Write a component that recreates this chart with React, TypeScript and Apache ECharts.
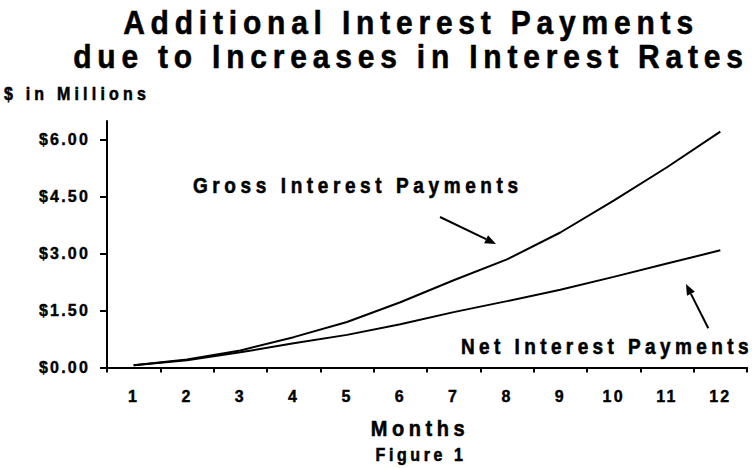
import React, { useEffect, useRef } from 'react';
import * as echarts from 'echarts';

const months = ['1', '2', '3', '4', '5', '6', '7', '8', '9', '10', '11', '12'];
const grossInterest = [0.06, 0.21, 0.45, 0.8, 1.2, 1.72, 2.3, 2.85, 3.56, 4.4, 5.28, 6.22];
const netInterest = [0.06, 0.19, 0.4, 0.64, 0.86, 1.14, 1.46, 1.75, 2.05, 2.39, 2.74, 3.09];
const yTickValues = [0, 1.5, 3, 4.5, 6];
const titleLines = ['Additional Interest Payments', 'due to Increases in Interest Rates'];
const yAxisTitle = '$ in Millions';
const xAxisTitle = 'Months';
const figureLabel = 'Figure 1';
const grossLabel = 'Gross Interest Payments';
const netLabel = 'Net Interest Payments';

const FONT = "'Liberation Sans', Arial, Helvetica, sans-serif";

const spacing: Record<string, number> = {
  [titleLines[0]]: 5.8,
  [titleLines[1]]: 5.8,
  [yAxisTitle]: 4.2,
  [xAxisTitle]: 4.6,
  [figureLabel]: 3.6,
  [grossLabel]: 4.6,
  [netLabel]: 4.4,
};

function arrow(x1: number, y1: number, x2: number, y2: number) {
  const dx = x2 - x1;
  const dy = y2 - y1;
  const len = Math.sqrt(dx * dx + dy * dy);
  const ux = dx / len;
  const uy = dy / len;
  const head = 11;
  const half = 4.5;
  const bx = x2 - ux * head;
  const by = y2 - uy * head;
  const px = -uy;
  const py = ux;
  return [
    {
      type: 'line',
      shape: { x1, y1, x2: bx, y2: by },
      style: { stroke: '#000', lineWidth: 2 },
    },
    {
      type: 'polygon',
      shape: {
        points: [
          [x2, y2],
          [bx + px * half, by + py * half],
          [bx - px * half, by - py * half],
        ],
      },
      style: { fill: '#000' },
    },
  ];
}

function txt(text: string, x: number, y: number, size: number, align: string, sy: number) {
  return {
    type: 'text',
    x,
    y,
    scaleY: sy,
    style: {
      text,
      fill: '#000',
      stroke: '#000',
      lineWidth: 0.5,
      font: `bold ${size}px ${FONT}`,
      textAlign: align,
      textVerticalAlign: 'middle',
    },
  };
}

const axisFont = {
  color: '#000',
  fontWeight: 'bold',
  fontSize: 16,
  fontFamily: FONT,
  textBorderColor: '#000',
  textBorderWidth: 0.4,
};

export default function App() {
  const ref = useRef<HTMLDivElement>(null);

  useEffect(() => {
    const el = ref.current!;
    const chart = echarts.init(el, null, { renderer: 'svg' });
    chart.setOption({
      animation: false,
      backgroundColor: '#fff',
      grid: {
        left: 107,
        right: 9,
        top: 121,
        bottom: 100.5,
        containLabel: false,
        outerBoundsMode: 'none',
      },
      xAxis: {
        type: 'category',
        data: months,
        boundaryGap: true,
        axisLine: { show: true, lineStyle: { color: '#000', width: 2 } },
        axisTick: { show: true, interval: 0, length: 5, lineStyle: { color: '#000', width: 2 } },
        axisLabel: { interval: 0, margin: 21, ...axisFont },
        splitLine: { show: false },
      },
      yAxis: {
        type: 'value',
        min: 0,
        max: 6.5,
        interval: 1.5,
        axisLine: { show: true, lineStyle: { color: '#000', width: 2 } },
        axisTick: {
          show: true,
          length: 7,
          customValues: yTickValues,
          lineStyle: { color: '#000', width: 2 },
        },
        axisLabel: {
          customValues: yTickValues,
          margin: 17,
          ...axisFont,
          formatter: (v: number) => '$' + v.toFixed(2),
        },
        splitLine: { show: false },
      },
      series: [
        {
          name: grossLabel,
          type: 'line',
          data: grossInterest,
          showSymbol: false,
          symbol: 'none',
          silent: true,
          lineStyle: { color: '#000', width: 2 },
        },
        {
          name: netLabel,
          type: 'line',
          data: netInterest,
          showSymbol: false,
          symbol: 'none',
          silent: true,
          lineStyle: { color: '#000', width: 2 },
        },
      ],
      graphic: [
        txt(titleLines[0], 411, 22, 30, 'center', 1.12),
        txt(titleLines[1], 411, 56.5, 30, 'center', 1.12),
        txt(yAxisTitle, 4, 94, 16, 'left', 1.1),
        txt(xAxisTitle, 420, 428, 20, 'center', 1.08),
        txt(figureLabel, 421, 455, 16, 'center', 1.1),
        txt(grossLabel, 193, 185, 19, 'left', 1.15),
        txt(netLabel, 461, 345.5, 19, 'left', 1.15),
        ...arrow(440, 217, 496, 244),
        ...arrow(708.3, 328.3, 686, 284),
      ],
    });

    el.querySelectorAll('text').forEach((t) => {
      const s = (t.textContent || '').trim();
      const ls = spacing[s] !== undefined ? spacing[s] : 2.2;
      (t as SVGTextElement).style.letterSpacing = ls + 'px';
    });

    return () => chart.dispose();
  }, []);

  return (
    <div
      ref={ref}
      style={{ position: 'fixed', left: 0, top: 0, width: 756, height: 468, background: '#fff' }}
    />
  );
}
